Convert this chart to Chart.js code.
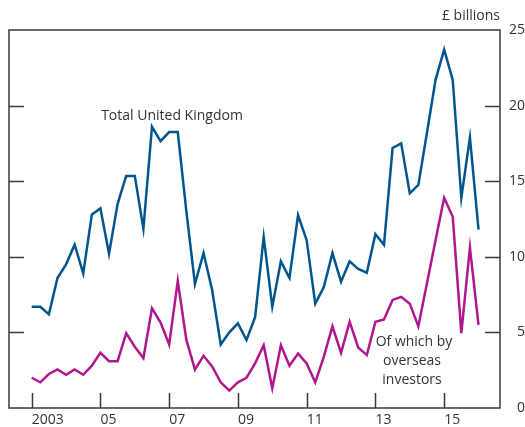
<!DOCTYPE html>
<html>
<head>
<meta charset="utf-8">
<script src="https://cdn.jsdelivr.net/npm/chart.js@4/dist/chart.umd.min.js"></script>
<style>
  html, body { margin: 0; padding: 0; background: #fff; }
  #wrap { width: 525px; height: 427px; position: relative; }
</style>
</head>
<body>
<div id="wrap"><canvas id="chart"></canvas></div>
<script>
// quarterly, 2003 Q1 .. 2016 Q1 (index 0 = 2003 Q1)
const totalUK = [
  6.7, 6.7, 6.2, 8.6, 9.5, 10.8, 8.9, 12.8, 13.2, 10.2,
  13.5, 15.35, 15.35, 11.85, 18.6, 17.65, 18.25, 18.25, 13.0, 8.2,
  10.25, 7.8, 4.2, 5.0, 5.6, 4.5, 6.0, 11.3, 6.7, 9.7,
  8.6, 12.75, 11.1, 6.9, 8.0, 10.25, 8.35, 9.7, 9.2, 8.95,
  11.5, 10.8, 17.2, 17.5, 14.2, 14.75, 18.2, 21.7, 23.7, 21.7,
  13.9, 17.9, 11.8
];
const overseas = [
  2.0, 1.7, 2.25, 2.55, 2.2, 2.55, 2.2, 2.8, 3.65, 3.1,
  3.1, 4.95, 4.05, 3.3, 6.6, 5.65, 4.2, 8.4, 4.5, 2.55,
  3.45, 2.75, 1.7, 1.15, 1.7, 2.0, 2.95, 4.15, 1.3, 4.15,
  2.8, 3.6, 2.95, 1.7, 3.4, 5.4, 3.65, 5.7, 4.0, 3.5,
  5.7, 5.85, 7.15, 7.35, 6.9, 5.4, 8.25, 11.1, 13.9, 12.65,
  4.95, 10.6, 5.5
];
const xTickPos = [0, 8, 16, 24, 32, 40, 48];
const xTickLabels = ['2003', '05', '07', '09', '11', '13', '15'];
const yTicks = [0, 5, 10, 15, 20, 25];

const BLUE = '#00558f';
const PURPLE = '#b0178f';
const AXIS = '#3a3a3a';
const TEXT = '#333333';
const FONT = '"Open Sans", "Noto Sans", sans-serif';

const toPoints = arr => arr.map((v, i) => ({ x: i, y: v }));

// frame, inward tick marks and in-chart labels
const decorations = {
  id: 'decorations',
  afterDraw(chart) {
    const { ctx, chartArea: a, scales } = chart;
    const x = scales.x, y = scales.y;
    ctx.save();
    ctx.strokeStyle = AXIS;
    ctx.lineWidth = 1.5;
    ctx.strokeRect(a.left, a.top, a.right - a.left, a.bottom - a.top);

    ctx.beginPath();
    xTickPos.forEach(v => {
      const px = Math.round(x.getPixelForValue(v)) + 0.5;
      ctx.moveTo(px, a.bottom);
      ctx.lineTo(px, a.bottom - 15);
    });
    yTicks.slice(1, -1).forEach(v => {
      const py = Math.round(y.getPixelForValue(v)) + 0.5;
      ctx.moveTo(a.left, py);
      ctx.lineTo(a.left + 15, py);
      ctx.moveTo(a.right, py);
      ctx.lineTo(a.right - 15, py);
    });
    ctx.stroke();

    ctx.fillStyle = TEXT;
    ctx.font = '14px ' + FONT;
    ctx.textBaseline = 'middle';
    ctx.textAlign = 'right';
    ctx.fillText('£ billions', a.right, 16);

    ctx.textAlign = 'center';
    ctx.fillText('Total United Kingdom', 172, 116);
    ctx.fillText('Of which by', 414, 342);
    ctx.fillText('overseas', 412, 361);
    ctx.fillText('investors', 412, 380);
    ctx.restore();
  }
};

new Chart(document.getElementById('chart'), {
  type: 'line',
  data: {
    datasets: [
      {
        label: 'Total United Kingdom',
        data: toPoints(totalUK),
        borderColor: BLUE,
        borderWidth: 2.5,
        pointRadius: 0,
        tension: 0,
        fill: false
      },
      {
        label: 'Of which by overseas investors',
        data: toPoints(overseas),
        borderColor: PURPLE,
        borderWidth: 2.5,
        pointRadius: 0,
        tension: 0,
        fill: false
      }
    ]
  },
  options: {
    responsive: true,
    maintainAspectRatio: false,
    animation: false,
    layout: { padding: { left: 9, top: 30, right: 0, bottom: 0 } },
    plugins: {
      legend: { display: false },
      tooltip: { enabled: false }
    },
    scales: {
      x: {
        type: 'linear',
        min: -2.64,
        max: 54.5,
        grid: { display: false, drawTicks: false },
        border: { display: false },
        afterBuildTicks: scale => {
          scale.ticks = xTickPos.map(v => ({ value: v }));
        },
        afterFit: scale => { scale.height = 19; },
        ticks: {
          autoSkip: false,
          maxRotation: 0,
          align: 'start',
          padding: 4,
          color: TEXT,
          font: { family: FONT, size: 14 },
          callback: (value) => xTickLabels[xTickPos.indexOf(value)]
        }
      },
      y: {
        position: 'right',
        min: 0,
        max: 25,
        grid: { display: false, drawTicks: false },
        border: { display: false },
        afterBuildTicks: scale => {
          scale.ticks = yTicks.map(v => ({ value: v }));
        },
        afterFit: scale => { scale.width = 25; },
        ticks: {
          padding: 0,
          crossAlign: 'far',
          color: TEXT,
          font: { family: FONT, size: 14 }
        }
      }
    }
  },
  plugins: [decorations]
});
</script>
</body>
</html>
